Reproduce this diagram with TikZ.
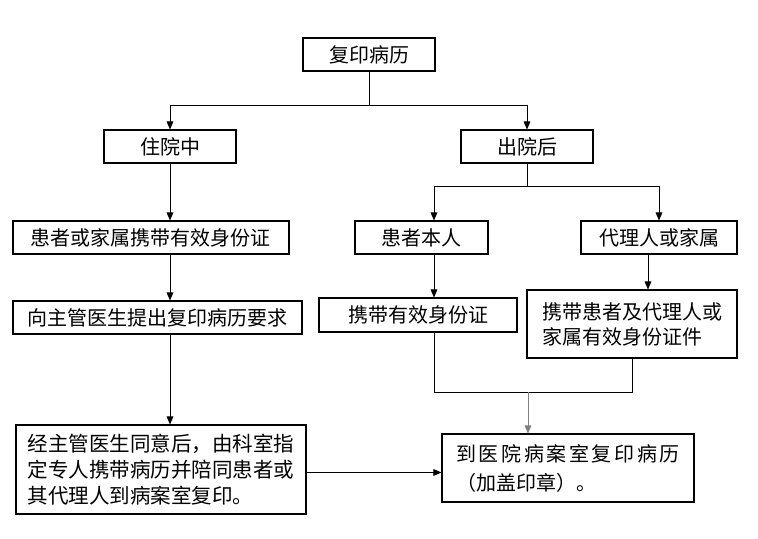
\documentclass[tikz,border=0pt]{standalone}
\usepackage{fontspec}
\setmainfont{Noto Sans CJK SC}
\usetikzlibrary{arrows.meta,calc}
\begin{document}
\begin{tikzpicture}[x=0.75pt,y=-0.75pt,
  box/.style={draw,line width=0.8pt,inner sep=0pt,align=left,
    font=\fontsize{15}{18.75}\selectfont},
  ln/.style={line width=0.75pt},
  arr/.style={line width=0.75pt,-{Triangle[length=6pt,width=5pt]}}]
\useasboundingbox (0,0) rectangle (758,539);
% boxes
\node[box,minimum width=99pt,minimum height=24.75pt] (top) at (369,54.5) {复印病历};
\node[box,minimum width=99pt,minimum height=24.75pt] (zy) at (170,146.5) {住院中};
\node[box,minimum width=99pt,minimum height=24.75pt] (cy) at (527,146.5) {出院后};
\node[box,minimum width=207pt,minimum height=24.75pt] (b1) at (151,237.5) {患者或家属携带有效身份证};
\node[box,minimum width=216.75pt,minimum height=24.75pt] (b2) at (157.5,317.5) {向主管医生提出复印病历要求};
\node[box,minimum width=99.75pt,minimum height=24.75pt] (b3) at (421.5,237.5) {患者本人};
\node[box,minimum width=117pt,minimum height=24.75pt] (b4) at (659,237.5) {代理人或家属};
\node[box,minimum width=148.5pt,minimum height=25.5pt] (b5) at (418,315) {携带有效身份证};
\node[box,minimum width=157.5pt,minimum height=51pt] (b6) at (632,324) {携带患者及代理人或\\家属有效身份证件};
\node[box,minimum width=217.5pt,minimum height=66.75pt,font=\fontsize{15.4}{19.5}\selectfont] (b7) at (161,469.5)
  {经主管医生同意后，由科室指\\定专人携带病历并陪同患者或\\其代理人到病案室复印。};
\node[box,minimum width=189pt,minimum height=51pt] (b8) at (568,468)
  {{\addfontfeature{LetterSpace=13}到医院病案室复印病历}\\[3pt]（加盖印章）。};
% connectors
\coordinate (j1) at (369,105);
\draw[ln] (top) -- (j1);
\draw[arr] (j1) -| (zy);
\draw[arr] (j1) -| (cy);
\coordinate (j2) at (527,186);
\coordinate (j2l) at (434,186);
\coordinate (j2r) at (659,186);
\draw[ln] (cy) -- (j2);
\draw[ln] (j2l) -- (j2r);
\draw[arr] (j2l) -- (j2l |- b3.north);
\draw[arr] (j2r) -- (b4);
\draw[arr] (zy.south) -- (zy.south |- b1.north);
\draw[arr] (b1.south -| zy) -- (b2.north -| zy);
\draw[arr] (b2.south -| zy) -- (b7.north -| zy);
\draw[arr] (b3.south -| j2l) -- (b5.north -| j2l);
\coordinate (c4) at ($(b4.south)+(-11,0)$);
\draw[arr] (c4) -- (c4 |- b6.north);
\coordinate (m5) at (434,392);
\coordinate (m6) at (632,392);
\draw[ln] (b5.south -| m5) -- (m5) -- (m6) -- (b6.south -| m6);
\coordinate (m) at (528,392);
\draw[arr,draw=gray,fill=black] (m) -- (m |- b8.north);
\coordinate (e7) at ($(b7.east)+(0,3)$);
\draw[arr] (e7) -- (e7 -| b8.west);
\end{tikzpicture}
\end{document}
